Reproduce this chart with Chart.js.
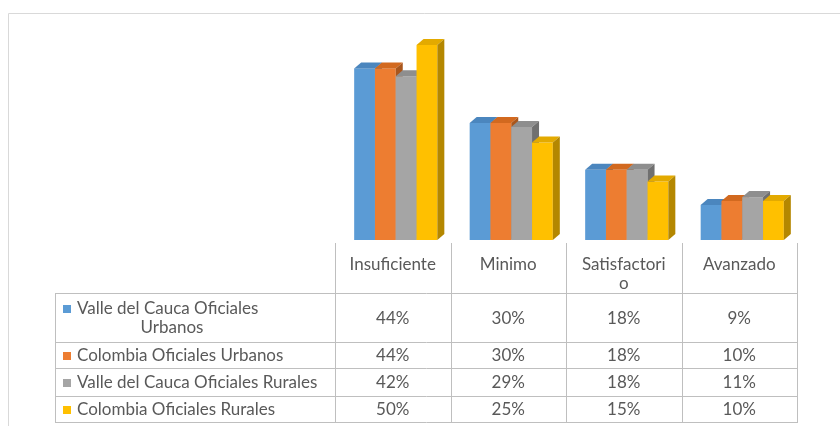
<!DOCTYPE html>
<html>
<head>
<meta charset="utf-8">
<script src="https://cdn.jsdelivr.net/npm/chart.js@4/dist/chart.umd.min.js"></script>
<style>
  html, body { margin: 0; padding: 0; background: #ffffff; }
  #wrap { position: relative; width: 840px; height: 426px; }
  canvas { display: block; }
</style>
</head>
<body>
<div id="wrap"><canvas id="c" width="840" height="426"></canvas></div>
<script>
// ---- data ----
const categories = [["Insuficiente"], ["Minimo"], ["Satisfactori", "o"], ["Avanzado"]];
const seriesNames = [
  ["Valle del Cauca Oficiales", "Urbanos"],
  ["Colombia Oficiales Urbanos"],
  ["Valle del Cauca Oficiales Rurales"],
  ["Colombia Oficiales Rurales"]
];
const valleUrbanos = [44, 30, 18, 9];
const colombiaUrbanos = [44, 30, 18, 10];
const valleRurales = [42, 29, 18, 11];
const colombiaRurales = [50, 25, 15, 10];

// ---- styles ----
const frontColors = ["#5B9BD5", "#ED7D31", "#A5A5A5", "#FFC000"];
const topColors   = ["#4B86BE", "#D2691F", "#8E8E8E", "#E3AA00"];
const sideColors  = ["#3D6E9C", "#A9561C", "#707070", "#B48700"];
const FONT = '17px Lato, "Liberation Sans", sans-serif';
const TEXT = "#595959";
const LINE = "#BFBFBF";

const seriesValues = [valleUrbanos, colombiaUrbanos, valleRurales, colombiaRurales];

const bar3d = {
  id: "bar3d",
  afterDatasetsDraw(chart) {
    const ctx = chart.ctx;
    const dx = 7, dy = 6, shift = 3;
    const n = chart.data.labels.length;
    ctx.save();
    for (let j = 0; j < n; j++) {
      for (let i = 0; i < chart.data.datasets.length; i++) {
        const el = chart.getDatasetMeta(i).data[j];
        const w = el.width, l = el.x - w / 2 + shift, r = l + w, t = el.y, b = el.base;
        ctx.fillStyle = frontColors[i];
        ctx.fillRect(l, t, w, b - t);
        ctx.fillStyle = topColors[i];
        ctx.beginPath();
        ctx.moveTo(l, t); ctx.lineTo(l + dx, t - dy); ctx.lineTo(r + dx, t - dy); ctx.lineTo(r, t);
        ctx.closePath(); ctx.fill();
        ctx.fillStyle = sideColors[i];
        ctx.beginPath();
        ctx.moveTo(r, t); ctx.lineTo(r + dx, t - dy); ctx.lineTo(r + dx, b - dy); ctx.lineTo(r, b);
        ctx.closePath(); ctx.fill();
      }
    }
    ctx.restore();
  }
};

const dataTable = {
  id: "dataTable",
  afterDraw(chart) {
    const ctx = chart.ctx;
    const xs = chart.scales.x;
    const n = chart.data.labels.length;
    const half = (xs.right - xs.left) / n / 2;
    const tableLeft = 55;
    const headerTop = 243;
    const rowLines = [293, 342, 368, 396, 422];
    ctx.save();
    // outer frame
    ctx.strokeStyle = "#D9D9D9"; ctx.lineWidth = 1;
    ctx.beginPath(); ctx.moveTo(8.5, 440); ctx.lineTo(8.5, 13.5); ctx.lineTo(845, 13.5); ctx.stroke();
    // grid lines
    ctx.strokeStyle = LINE;
    ctx.beginPath();
    for (let j = 0; j <= n; j++) {
      const x = Math.round(xs.getPixelForValue(j) - half) + 0.5;
      ctx.moveTo(x, headerTop); ctx.lineTo(x, rowLines[rowLines.length - 1]);
    }
    ctx.moveTo(tableLeft + 0.5, rowLines[0]); ctx.lineTo(tableLeft + 0.5, rowLines[rowLines.length - 1]);
    rowLines.forEach(y => { ctx.moveTo(tableLeft, y + 0.5); ctx.lineTo(Math.round(xs.right) + 1, y + 0.5); });
    ctx.stroke();
    // headers
    ctx.font = FONT; ctx.fillStyle = TEXT; ctx.textAlign = "center"; ctx.textBaseline = "middle";
    chart.data.labels.forEach((lab, j) => {
      const cx = xs.getPixelForValue(j);
      lab.forEach((line, k) => ctx.fillText(line, cx, 265 + k * 19));
    });
    // rows
    chart.data.datasets.forEach((ds, i) => {
      const y0 = rowLines[i], y1 = rowLines[i + 1];
      const cy = (y0 + y1) / 2 + 1;
      const names = seriesNames[i];
      const nameY = names.length > 1 ? cy - 9.5 : cy;
      ctx.fillStyle = frontColors[i];
      ctx.fillRect(63, nameY - 4, 8, 8);
      ctx.fillStyle = TEXT;
      ctx.textAlign = "left";
      ctx.fillText(names[0], 77, nameY);
      if (names.length > 1) {
        ctx.textAlign = "center";
        ctx.fillText(names[1], 172, nameY + 19);
      }
      ctx.textAlign = "center";
      ds.data.forEach((v, j) => ctx.fillText(v + "%", xs.getPixelForValue(j), cy));
    });
    ctx.restore();
  }
};

new Chart(document.getElementById("c"), {
  type: "bar",
  data: {
    labels: categories,
    datasets: seriesValues.map((vals, i) => ({
      label: seriesNames[i].join(" "),
      data: vals,
      backgroundColor: "rgba(0,0,0,0)",
      borderWidth: 0,
      categoryPercentage: 0.72,
      barPercentage: 1.0
    }))
  },
  options: {
    responsive: false,
    animation: false,
    events: [],
    layout: { padding: { left: 335, right: 43, top: 25.5, bottom: 186 } },
    plugins: { legend: { display: false }, tooltip: { enabled: false } },
    scales: {
      x: { display: false },
      y: { display: false, min: 0, max: 55 }
    }
  },
  plugins: [bar3d, dataTable]
});
</script>
</body>
</html>
